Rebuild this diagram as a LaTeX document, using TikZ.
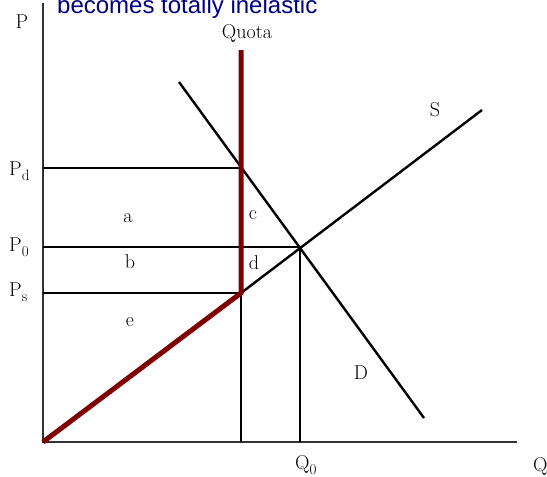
\documentclass[tikz,border=0pt]{standalone}
\usepackage{fontspec}
\newfontfamily\headfont{Liberation Sans}
\definecolor{quotared}{RGB}{128,0,0}
\definecolor{headblue}{RGB}{0,0,128}
\newcommand{\lowsub}[1]{\raisebox{-5pt}{\fontsize{15}{15}\selectfont #1}}
\tikzset{
  axis/.style={line width=1.6pt, black!80},
  curve/.style={line width=2.4pt, black},
  quotaline/.style={line width=5pt, quotared},
  lbl/.style={inner sep=0pt, font=\fontsize{20}{20}\selectfont},
}
\begin{document}
\begin{tikzpicture}[x=1pt,y=-1pt]
\useasboundingbox (0,0) rectangle (547,477);
% coordinates
\coordinate (O) at (43,442);
\coordinate (Ytop) at (43,3);
\coordinate (Xend) at (517,442);
\coordinate (K) at (241,293);
\coordinate (Qtop) at (241,50);
\coordinate (Send) at (482,110);
\coordinate (Dstart) at (179,82);
\coordinate (Dend) at (424,418);
\coordinate (E) at (300,247);
\coordinate (Pdl) at (43,168);
\coordinate (Pdr) at (241,168);
\coordinate (P0l) at (43,247);
\coordinate (Psl) at (43,293);
\coordinate (Q1) at (241,442);
\coordinate (Q0) at (300,442);
% axes
\draw[axis] (Ytop) -- (O) -- (Xend);
% horizontal price lines
\draw[curve] (Pdl) -- (Pdr);
\draw[curve] (P0l) -- (E);
\draw[curve] (Psl) -- (K);
% vertical quantity lines
\draw[curve] (K) -- (Q1);
\draw[curve] (E) -- (Q0);
% supply above quota
\draw[curve] (K) -- (Send);
% demand
\draw[curve] (Dstart) -- (Dend);
% red supply with quota
\draw[quotaline, line join=miter] (O) -- (K) -- (Qtop);
% heading
\node[anchor=base west, inner sep=0pt, text=headblue, font=\headfont\fontsize{24}{24}\selectfont] (head) at (57,13) {becomes totally inelastic};
% labels
\node[lbl] (lP) at (22,22) {P};
\node[lbl, anchor=west] (lPd) at (9,171) {P\lowsub{d}};
\node[lbl, anchor=west] (lP0) at (9,247) {P\lowsub{0}};
\node[lbl, anchor=west] (lPs) at (9,292) {P\lowsub{s}};
\node[lbl] (lQuota) at (247,33) {Quota};
\node[lbl] (lS) at (435,110) {S};
\node[lbl] (lD) at (361,373) {D};
\node[lbl] (la) at (128,218) {a};
\node[lbl] (lc) at (253,215) {c};
\node[lbl] (lb) at (130,262) {b};
\node[lbl] (ld) at (254,263) {d};
\node[lbl] (le) at (130,322) {e};
\node[lbl, anchor=west] (lQ0) at (295,465) {Q\lowsub{0}};
\node[lbl, anchor=west] (lQ) at (533,466) {Q};
\end{tikzpicture}
\end{document}
